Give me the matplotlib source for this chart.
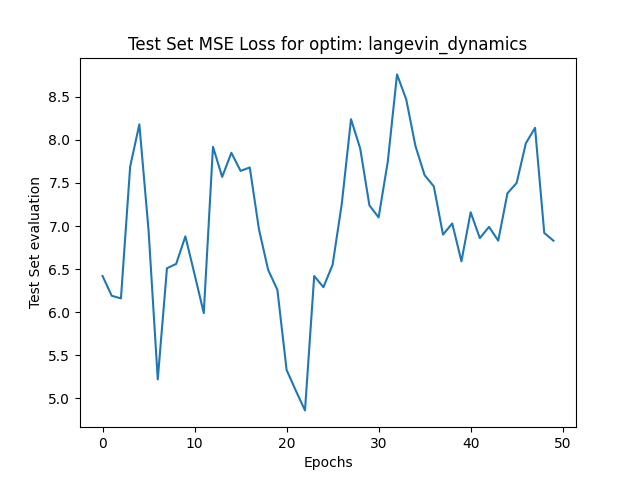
import numpy as np
import matplotlib
matplotlib.use("Agg")
import matplotlib.pyplot as plt

# test set loss per epoch
loss = [6.42, 6.19, 6.16, 7.69, 8.18, 6.95, 5.22, 6.51, 6.56, 6.88,
        6.44, 5.99, 7.92, 7.57, 7.85, 7.64, 7.68, 6.96, 6.49, 6.26,
        5.33, 5.09, 4.86, 6.42, 6.29, 6.55, 7.26, 8.24, 7.90, 7.24,
        7.10, 7.75, 8.76, 8.47, 7.93, 7.59, 7.46, 6.90, 7.03, 6.59,
        7.16, 6.86, 6.99, 6.83, 7.38, 7.50, 7.96, 8.14, 6.92, 6.83]
epochs = np.arange(len(loss))

plt.figure(figsize=(6.4, 4.8), dpi=100)
plt.plot(epochs, loss)
plt.title("Test Set MSE Loss for optim: langevin_dynamics")
plt.xlabel("Epochs")
plt.ylabel("Test Set evaluation")
plt.savefig("out.png")
